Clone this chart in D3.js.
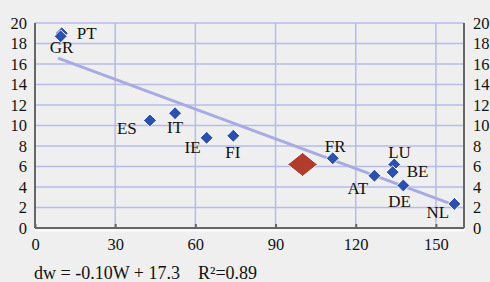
<!DOCTYPE html>
<html>
<head>
<meta charset="utf-8">
<script src="https://cdn.jsdelivr.net/npm/d3@7"></script>
<style>
  body { margin: 0; background: #efefef; }
  svg text { font-family: "Times New Roman", "Liberation Serif", Times, serif; fill: #111; }
</style>
</head>
<body>
<div id="chart"></div>
<script>
// Data
var countries = ["PT", "GR", "ES", "IT", "IE", "FI", "FR", "LU", "BE", "AT", "DE", "NL"];
var wValues   = [10.0, 9.6, 43.0, 52.4, 64.2, 74.2, 111.4, 134.4, 133.8, 127.0, 137.8, 156.9];
var dwValues  = [19.0, 18.7, 10.5, 11.2, 8.8, 9.0, 6.8, 6.2, 5.45, 5.1, 4.15, 2.35];
var euroArea  = { w: 100.1, dw: 6.2 };
var trendSlope = -0.0967;
var trendIntercept = 17.4;
var xTicks = [0, 30, 60, 90, 120, 150];
var yTicks = [0, 2, 4, 6, 8, 10, 12, 14, 16, 18, 20];
var equationText = "dw = -0.10W + 17.3";
var r2Text = "R\u00b2=0.89";

// label offsets (px from the marker)
var labelOffset = {
  PT: [15, 6], GR: [-11, 17], ES: [-33, 14], IT: [-8, 20], IE: [-22, 15], FI: [-8, 22],
  FR: [-8, -6], LU: [-6, -6], BE: [14, 5], AT: [-27, 18], DE: [-15, 22], NL: [-28, 14]
};

var svgWidth = 490, svgHeight = 282;
var margin = { top: 23, right: 26, bottom: 54, left: 35 };
var width = svgWidth - margin.left - margin.right;
var height = svgHeight - margin.top - margin.bottom;
var font = '"Times New Roman", "Liberation Serif", Times, serif';

var svg = d3.select("#chart").append("svg")
  .attr("width", svgWidth)
  .attr("height", svgHeight);

var g = svg.append("g")
  .attr("transform", `translate(${margin.left}, ${margin.top})`);

var x = d3.scaleLinear().domain([0, 160.5]).range([0, width]);
var y = d3.scaleLinear().domain([0, 20]).range([height, 0]);

// grid
g.selectAll(".hgrid").data(yTicks.filter(d => d > 0)).enter().append("line")
  .attr("x1", 0).attr("x2", width)
  .attr("y1", d => y(d)).attr("y2", d => y(d))
  .attr("stroke", "#b6bbe8").attr("stroke-width", 1.5);
g.selectAll(".vgrid").data(xTicks.filter(d => d > 0)).enter().append("line")
  .attr("x1", d => x(d)).attr("x2", d => x(d))
  .attr("y1", 0).attr("y2", height)
  .attr("stroke", "#b6bbe8").attr("stroke-width", 1.5);

// trend line
var xMin = d3.min(wValues), xMax = d3.max(wValues);
g.append("line")
  .attr("x1", x(xMin - 1)).attr("y1", y(trendIntercept + trendSlope * (xMin - 1)))
  .attr("x2", x(xMax + 1.5)).attr("y2", y(trendIntercept + trendSlope * (xMax + 1.5)))
  .attr("stroke", "#a7abe2").attr("stroke-width", 3);

// axes
var bottomAxis = d3.axisBottom(x).tickValues(xTicks).tickSize(-4).tickPadding(10);
var leftAxis = d3.axisLeft(y).tickValues(yTicks).tickSize(0).tickPadding(8);
var rightAxis = d3.axisRight(y).tickValues(yTicks).tickSize(0).tickPadding(9);

// white shadow under x axis
g.append("line").attr("x1", 0).attr("x2", width + 1)
  .attr("y1", height + 2.5).attr("y2", height + 2.5)
  .attr("stroke", "#fff").attr("stroke-width", 1.5);

var xa = g.append("g").attr("transform", `translate(0, ${height})`).call(bottomAxis);
var ya = g.append("g").call(leftAxis);
var ra = g.append("g").attr("transform", `translate(${width}, 0)`).call(rightAxis);

[xa, ya, ra].forEach(function(a) {
  a.attr("font-family", font).attr("font-size", 16.5);
  a.select(".domain").attr("stroke", "#666").attr("stroke-width", 2);
  a.selectAll(".tick line").attr("stroke", "#666").attr("stroke-width", 2);
  a.selectAll("text").attr("fill", "#111");
});
xa.select(".domain").attr("d", `M0,0H${width}`);
ya.select(".domain").attr("d", `M0,0V${height}`);
ra.select(".domain").attr("d", `M0,0V${height}`);

// points
var points = countries.map((c, i) => ({ name: c, w: wValues[i], dw: dwValues[i] }));

g.selectAll(".pt").data(points).enter().append("path")
  .attr("d", "M0,-6.5L6.5,0L0,6.5L-6.5,0Z")
  .attr("transform", d => `translate(${x(d.w)}, ${y(d.dw)})`)
  .attr("fill", "#2d4fae")
  .attr("stroke", "#fff").attr("stroke-width", 1);

g.append("path")
  .attr("d", "M0,-12L15,0L0,12L-15,0Z")
  .attr("transform", `translate(${x(euroArea.w)}, ${y(euroArea.dw)})`)
  .attr("fill", "#b03c2e")
  .attr("stroke", "#fff").attr("stroke-width", 1);

g.selectAll(".lbl").data(points).enter().append("text")
  .attr("x", d => x(d.w) + labelOffset[d.name][0])
  .attr("y", d => y(d.dw) + labelOffset[d.name][1])
  .attr("font-size", 17)
  .text(d => d.name);

// equation
svg.append("text").attr("x", 34).attr("y", 279).attr("font-size", 18).text(equationText);
svg.append("text").attr("x", 198).attr("y", 279).attr("font-size", 18).text(r2Text);
</script>
</body>
</html>
